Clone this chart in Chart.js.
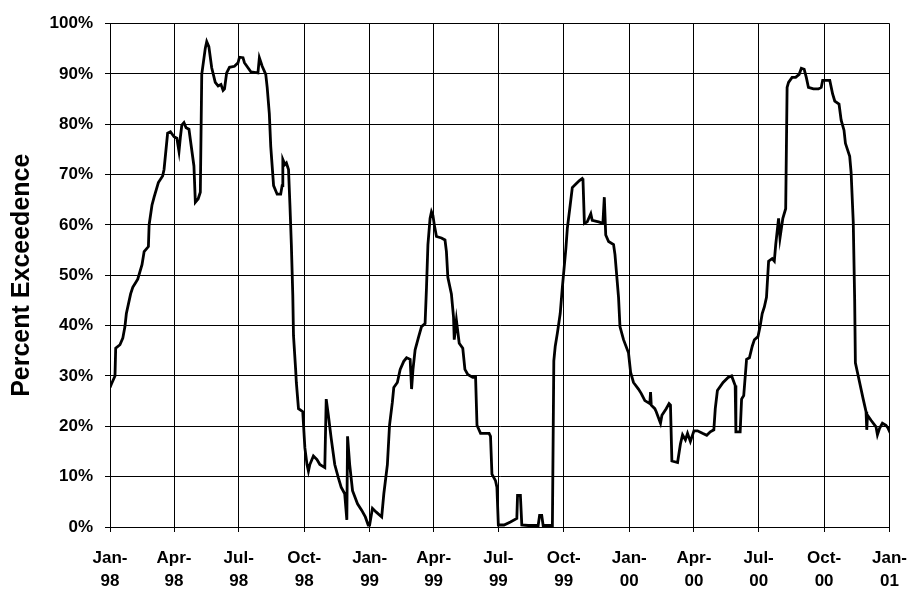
<!DOCTYPE html>
<html>
<head>
<meta charset="utf-8">
<title>Percent Exceedence, 1998–2000</title>
<script src="https://cdn.jsdelivr.net/npm/chart.js@4/dist/chart.umd.min.js"></script>
<style>
  html, body { margin: 0; padding: 0; background: #fff; }
  #chart { display: block; }
</style>
</head>
<body>
<canvas id="chart" width="922" height="589"></canvas>
<script>
// Day offsets counted from 1 January 1998
const days = [
  0, 2, 7, 8, 14, 18, 21, 23, 29, 32, 39, 45, 48, 54, 55, 59, 62, 68, 74, 76,
  81, 85, 90, 94, 97, 99, 101, 104, 107, 111, 113, 118, 120, 124, 127, 129, 134, 136, 139, 143,
  148, 152, 156, 159, 161, 164, 168, 175, 180, 182, 187, 189, 194, 198, 208, 210, 214, 219, 221, 224,
  226, 230, 235, 240, 242, 243, 246, 248, 251, 253, 255, 257, 258, 261, 262, 265, 271, 274, 277, 279,
  281, 286, 291, 295, 302, 304, 307, 311, 316, 321, 325, 330, 333, 334, 337, 341, 348, 354, 359, 363,
  365, 369, 374, 382, 385, 390, 393, 397, 399, 404, 408, 413, 417, 422, 424, 426, 429, 434, 438, 443,
  445, 447, 450, 452, 454, 456, 459, 466, 471, 473, 475, 480, 483, 484, 487, 491, 496, 499, 503, 510,
  514, 516, 521, 533, 535, 537, 542, 544, 546, 554, 563, 572, 573, 577, 579, 588, 602, 604, 607, 609,
  622, 624, 626, 629, 633, 636, 641, 643, 647, 650, 655, 660, 664, 665, 667, 671, 676, 678, 687, 693,
  695, 697, 701, 708, 710, 715, 717, 722, 729, 732, 736, 743, 747, 752, 759, 760, 761, 766, 768, 774,
  776, 782, 786, 788, 790, 798, 802, 805, 809, 812, 816, 821, 826, 833, 839, 844, 849, 851, 854, 862,
  869, 874, 879, 880, 886, 888, 891, 895, 899, 903, 906, 911, 914, 917, 920, 923, 926, 931, 934, 936,
  940, 942, 946, 950, 952, 954, 959, 964, 969, 972, 976, 979, 982, 989, 996, 1000, 1002, 1012, 1016, 1019,
  1025, 1028, 1032, 1034, 1040, 1042, 1045, 1047, 1048, 1052, 1059, 1063, 1064, 1065, 1070, 1077, 1079, 1082, 1086, 1091,
  1094, 1095
];

// Percent exceedence for each day above
const exceedence = [
  27.7, 28.4, 30.0, 35.5, 36.2, 37.5, 39.8, 42.4, 46.3, 47.6, 49.2, 52.1, 54.7, 55.7, 60.0, 63.9, 65.5, 68.4, 69.7, 71.0,
  78.2, 78.5, 77.5, 77.2, 74.6, 77.5, 79.8, 80.3, 79.3, 79.0, 76.9, 71.7, 64.5, 65.2, 66.5, 89.9, 95.1, 96.4, 95.4, 91.2,
  88.3, 87.6, 87.9, 86.7, 87.0, 90.2, 91.3, 91.5, 92.2, 93.3, 93.2, 92.2, 91.2, 90.4, 90.2, 93.2, 91.5, 89.9, 87.3, 82.1,
  75.6, 67.8, 66.1, 66.1, 67.8, 73.0, 72.0, 72.3, 71.0, 63.9, 56.0, 46.0, 38.0, 31.3, 28.7, 23.5, 22.9, 15.7, 12.4, 11.1,
  12.4, 14.1, 13.4, 12.4, 11.8, 25.4, 22.2, 17.6, 12.4, 9.8, 7.9, 6.6, 1.4, 18.0, 12.4, 7.2, 4.6, 3.3, 2.0, 0.4,
  0.4, 3.7, 3.0, 2.0, 6.6, 12.4, 20.2, 24.8, 27.7, 28.7, 31.3, 32.9, 33.6, 33.3, 27.4, 31.3, 35.2, 37.8, 39.8, 40.4,
  47.6, 56.1, 61.3, 62.6, 61.9, 60.0, 57.7, 57.4, 57.0, 54.7, 49.6, 46.3, 41.7, 37.2, 41.1, 36.5, 35.5, 31.3, 30.3, 29.7,
  29.7, 20.2, 18.6, 18.6, 18.0, 10.5, 9.2, 7.9, 0.4, 0.4, 1.0, 1.7, 6.3, 6.3, 0.4, 0.3, 0.3, 2.3, 2.3, 0.3,
  0.3, 33.0, 35.9, 38.5, 42.4, 47.6, 55.4, 59.3, 63.9, 67.4, 68.1, 68.8, 69.2, 69.0, 60.3, 60.6, 62.2, 60.9, 60.6, 60.3,
  65.5, 58.0, 56.7, 56.1, 54.1, 45.6, 39.8, 37.2, 34.6, 30.7, 28.7, 27.4, 26.5, 25.1, 24.5, 26.8, 24.2, 23.5, 22.9, 20.6,
  22.2, 23.5, 24.5, 24.2, 13.1, 12.8, 16.5, 18.3, 17.3, 18.6, 17.0, 19.1, 19.1, 18.6, 18.2, 18.9, 19.3, 23.5, 27.1, 28.7,
  29.7, 30.0, 28.1, 18.9, 18.9, 25.4, 26.1, 33.3, 33.6, 35.9, 37.2, 37.8, 39.8, 42.4, 43.7, 45.6, 52.8, 53.3, 52.8, 56.1,
  61.3, 57.4, 61.3, 63.2, 87.3, 88.3, 89.3, 89.3, 89.9, 91.1, 90.9, 89.3, 87.3, 87.0, 87.0, 87.3, 88.7, 88.7, 86.0, 84.6,
  84.0, 80.8, 78.8, 76.2, 73.6, 70.4, 60.6, 45.0, 32.6, 30.0, 25.4, 22.9, 19.3, 22.2, 21.2, 19.9, 18.3, 19.6, 20.6, 20.2,
  19.6, 19.3
];

// Quarter boundaries on the date axis and their two-line labels
const tickDays = [0, 90, 181, 273, 365, 455, 546, 638, 730, 821, 912, 1004, 1096];
const tickLabels = [
  ['Jan-', '98'], ['Apr-', '98'], ['Jul-', '98'], ['Oct-', '98'],
  ['Jan-', '99'], ['Apr-', '99'], ['Jul-', '99'], ['Oct-', '99'],
  ['Jan-', '00'], ['Apr-', '00'], ['Jul-', '00'], ['Oct-', '00'],
  ['Jan-', '01']
];
const yTicks = [0, 10, 20, 30, 40, 50, 60, 70, 80, 90, 100];

const points = days.map((d, i) => ({ x: d, y: exceedence[i] }));

const tickFont = { family: "'Liberation Sans', Arial, sans-serif", size: 17, weight: 'bold', lineHeight: 1.35 };

new Chart(document.getElementById('chart'), {
  type: 'line',
  data: {
    datasets: [{
      data: points,
      borderColor: '#000',
      borderWidth: 2.8,
      pointRadius: 0,
      tension: 0,
      fill: false
    }]
  },
  options: {
    responsive: false,
    animation: false,
    devicePixelRatio: 1,
    layout: { padding: { left: 0, top: 15, right: 20, bottom: 0 } },
    plugins: {
      legend: { display: false },
      tooltip: { enabled: false }
    },
    scales: {
      x: {
        type: 'linear',
        min: tickDays[0],
        max: tickDays[tickDays.length - 1],
        afterBuildTicks: (scale) => { scale.ticks = tickDays.map(v => ({ value: v })); },
        afterFit: (scale) => { scale.height = 62; },
        grid: { color: '#000', lineWidth: 1, drawTicks: true, tickLength: 5, tickColor: '#000' },
        border: { color: '#000', width: 1 },
        ticks: {
          autoSkip: false,
          maxRotation: 0,
          minRotation: 0,
          padding: 15,
          color: '#000',
          font: tickFont,
          callback: (value, index) => tickLabels[index]
        }
      },
      y: {
        min: 0,
        max: 100,
        afterBuildTicks: (scale) => { scale.ticks = yTicks.map(v => ({ value: v })); },
        afterFit: (scale) => { scale.width = 110; },
        grid: { color: '#000', lineWidth: 1, drawTicks: true, tickLength: 5, tickColor: '#000' },
        border: { color: '#000', width: 1 },
        ticks: {
          padding: 12,
          color: '#000',
          font: tickFont,
          callback: (value) => value + '%'
        },
        title: {
          display: true,
          text: 'Percent Exceedence',
          color: '#000',
          font: { family: "'Liberation Sans', Arial, sans-serif", size: 25, weight: 'bold', lineHeight: 1.2 },
          padding: { top: 7, bottom: 0 }
        }
      }
    }
  }
});
</script>
</body>
</html>
